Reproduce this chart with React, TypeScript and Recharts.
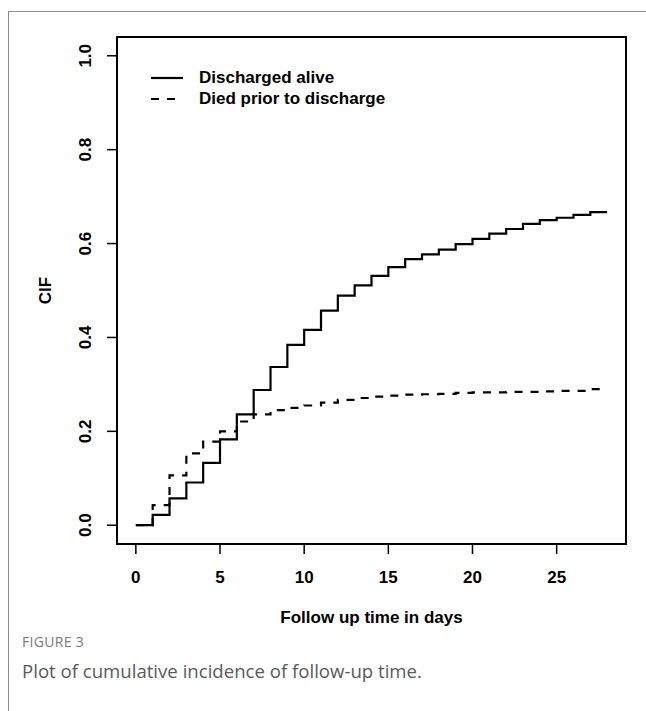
import React from "react";
import {
  LineChart,
  Line,
  XAxis,
  YAxis,
  Legend,
  ReferenceArea,
} from "recharts";

// follow-up day, cumulative incidence
const days = [
  0, 1, 2, 3, 4, 5, 6, 7, 8, 9, 10, 11, 12, 13, 14, 15, 16, 17, 18, 19, 20, 21,
  22, 23, 24, 25, 26, 27, 28,
];
const dischargedAlive = [
  0, 0.022, 0.057, 0.091, 0.133, 0.183, 0.236, 0.288, 0.337, 0.384, 0.416,
  0.457, 0.489, 0.511, 0.531, 0.55, 0.567, 0.577, 0.587, 0.599, 0.61, 0.621,
  0.631, 0.642, 0.65, 0.655, 0.661, 0.667, 0.667,
];
const diedPrior = [
  0, 0.043, 0.106, 0.153, 0.178, 0.2, 0.221, 0.236, 0.245, 0.25, 0.255, 0.261,
  0.267, 0.271, 0.274, 0.276, 0.278, 0.279, 0.28, 0.282, 0.283, 0.283, 0.284,
  0.284, 0.285, 0.286, 0.286, 0.29, 0.29,
];
const xTicks = [0, 5, 10, 15, 20, 25];
const yTicks = [0, 0.2, 0.4, 0.6, 0.8, 1.0];
const seriesNames = ["Discharged alive", "Died prior to discharge"];

const data = days.map((d, i) => ({
  day: d,
  alive: dischargedAlive[i],
  died: diedPrior[i],
}));

const FONT = "'Liberation Sans', Arial, sans-serif";

const XTick = (props: any) => {
  const { x, y, payload } = props;
  return (
    <text
      x={x}
      y={y + 23}
      textAnchor="middle"
      dominantBaseline="central"
      fontFamily={FONT}
      fontWeight="bold"
      fontSize={17}
      fill="#000"
    >
      {payload.value}
    </text>
  );
};

const YTick = (props: any) => {
  const { x, y, payload } = props;
  const cx = x - 21;
  return (
    <text
      x={cx}
      y={y}
      transform={`rotate(-90, ${cx}, ${y})`}
      textAnchor="middle"
      dominantBaseline="central"
      fontFamily={FONT}
      fontWeight="bold"
      fontSize={17}
      fill="#000"
    >
      {Number(payload.value).toFixed(1)}
    </text>
  );
};

const LegendBox = () => (
  <div style={{ fontFamily: FONT, fontWeight: "bold", fontSize: 17 }}>
    {seriesNames.map((name, i) => (
      <div
        key={name}
        style={{ display: "flex", alignItems: "center", height: 21 }}
      >
        <svg width={34} height={10} style={{ marginRight: 15 }}>
          <line
            x1={1}
            y1={5}
            x2={33}
            y2={5}
            stroke="#000"
            strokeWidth={2.2}
            strokeDasharray={i === 1 ? "8 8" : undefined}
          />
        </svg>
        <span>{name}</span>
      </div>
    ))}
  </div>
);

export default function App() {
  return (
    <div
      style={{
        position: "relative",
        width: 646,
        height: 711,
        background: "#fff",
        overflow: "hidden",
      }}
    >
      <style>{`body{margin:0}`}</style>
      {/* figure frame */}
      <div
        style={{
          position: "absolute",
          left: 8,
          top: 11,
          width: 640,
          height: 1,
          background: "#8c8c8c",
        }}
      />
      <div
        style={{
          position: "absolute",
          left: 8,
          top: 11,
          width: 1,
          height: 700,
          background: "#8c8c8c",
        }}
      />
      <LineChart
        width={646}
        height={711}
        data={data}
        margin={{ top: 37, right: 20, left: 0, bottom: 87 }}
      >
        <XAxis
          dataKey="day"
          type="number"
          domain={[-1.12, 29.12]}
          ticks={xTicks}
          allowDataOverflow
          axisLine={false}
          tickLine={{ stroke: "#000", strokeWidth: 1.5 }}
          tickSize={10}
          tickMargin={0}
          height={80}
          tick={<XTick />}
          label={{
            content: (p: any) => (
              <text
                x={p.viewBox.x + p.viewBox.width / 2}
                y={p.viewBox.y + 73}
                textAnchor="middle"
                dominantBaseline="central"
                fontFamily={FONT}
                fontWeight="bold"
                fontSize={17}
                fill="#000"
              >
                Follow up time in days
              </text>
            ),
          }}
        />
        <YAxis
          type="number"
          domain={[-0.04, 1.04]}
          ticks={yTicks}
          allowDataOverflow
          axisLine={false}
          tickLine={{ stroke: "#000", strokeWidth: 1.5 }}
          tickSize={10}
          tickMargin={0}
          width={117}
          tick={<YTick />}
          label={{
            content: (p: any) => {
              const cx = 45;
              const cy = p.viewBox.y + p.viewBox.height / 2;
              return (
                <text
                  x={cx}
                  y={cy}
                  transform={`rotate(-90, ${cx}, ${cy})`}
                  textAnchor="middle"
                  dominantBaseline="central"
                  fontFamily={FONT}
                  fontWeight="bold"
                  fontSize={17}
                  fill="#000"
                >
                  CIF
                </text>
              );
            },
          }}
        />
        <ReferenceArea
          x1={-1.12}
          x2={29.12}
          y1={-0.04}
          y2={1.04}
          fill="none"
          fillOpacity={0}
          stroke="#000"
          strokeWidth={2}
          ifOverflow="visible"
        />
        <Legend
          layout="vertical"
          verticalAlign="middle"
          align="center"
          content={<LegendBox />}
          wrapperStyle={{ left: 150, top: 67, width: "auto" }}
        />
        <Line
          type="stepAfter"
          dataKey="alive"
          name={seriesNames[0]}
          stroke="#000"
          strokeWidth={2.2}
          dot={false}
          isAnimationActive={false}
        />
        <Line
          type="stepAfter"
          dataKey="died"
          name={seriesNames[1]}
          stroke="#000"
          strokeWidth={2.2}
          strokeDasharray="8 8"
          dot={false}
          isAnimationActive={false}
        />
      </LineChart>
      <div
        style={{
          position: "absolute",
          left: 22,
          top: 632,
          fontFamily: "'Open Sans', sans-serif",
          fontSize: 14,
          color: "#7a7a7a",
          letterSpacing: 0.3,
        }}
      >
        FIGURE 3
      </div>
      <div
        style={{
          position: "absolute",
          left: 22,
          top: 658,
          fontFamily: "'Open Sans', sans-serif",
          fontSize: 18.6,
          color: "#5a5a5a",
        }}
      >
        Plot of cumulative incidence of follow-up time.
      </div>
    </div>
  );
}
